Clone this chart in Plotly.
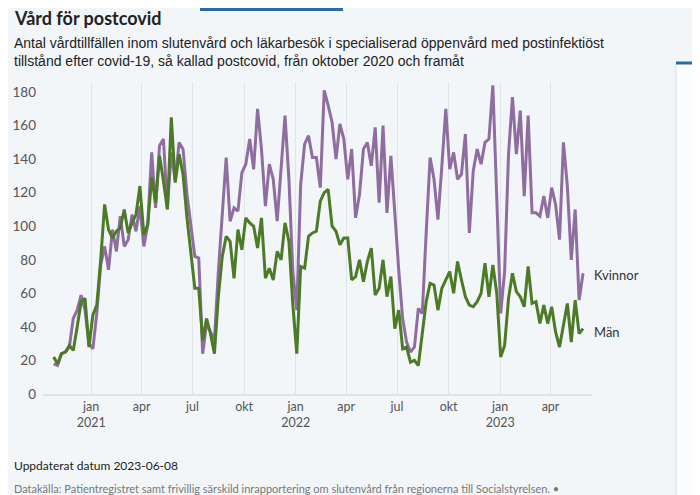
import pandas as pd
import plotly.graph_objects as go

start_date = "2020-10-26"
n_weeks = 136

kvinnor = [18, 17, 24, 25, 28, 45, 50, 59, 50, 30, 27, 48, 77, 88, 74, 98, 85, 106, 88, 92,
           107, 97, 112, 88, 101, 144, 111, 148, 152, 111, 144, 127, 150, 146, 119, 100, 82, 81, 24, 42,
           37, 32, 73, 106, 141, 103, 111, 109, 132, 137, 152, 134, 170, 146, 112, 137, 128, 103, 132, 166,
           128, 73, 50, 125, 149, 154, 141, 141, 123, 181, 172, 162, 140, 161, 152, 128, 146, 105, 119, 146,
           150, 136, 159, 114, 160, 108, 142, 106, 74, 45, 31, 25, 28, 51, 48, 96, 141, 128, 104, 136,
           170, 134, 144, 128, 131, 155, 96, 133, 146, 137, 150, 152, 184, 117, 48, 73, 143, 177, 143, 169,
           118, 166, 108, 108, 106, 118, 105, 123, 113, 92, 150, 124, 80, 110, 56, 72]

man = [22, 18, 24, 25, 29, 26, 40, 55, 57, 28, 47, 53, 80, 113, 98, 93, 97, 99, 110, 96,
       102, 107, 124, 95, 101, 129, 114, 142, 127, 110, 165, 126, 143, 131, 105, 85, 63, 63, 32, 45,
       36, 24, 58, 82, 94, 91, 69, 98, 86, 105, 102, 100, 87, 105, 69, 75, 68, 85, 80, 102,
       91, 53, 24, 76, 75, 94, 96, 97, 115, 120, 122, 100, 97, 89, 93, 93, 68, 70, 80, 67,
       79, 87, 59, 63, 80, 58, 70, 39, 50, 27, 28, 19, 20, 17, 35, 55, 66, 65, 50, 63,
       68, 73, 60, 79, 68, 58, 53, 52, 55, 60, 78, 58, 77, 60, 22, 29, 57, 72, 61, 58,
       52, 76, 54, 55, 42, 53, 42, 52, 37, 28, 41, 54, 31, 56, 36, 39]

tick_dates = ["2021-01-01", "2021-04-01", "2021-07-01", "2021-10-01",
              "2022-01-01", "2022-04-01", "2022-07-01", "2022-10-01",
              "2023-01-01", "2023-04-01"]
tick_text = ["jan<br>2021", "apr", "jul", "okt",
             "jan<br>2022", "apr", "jul", "okt",
             "jan<br>2023", "apr"]
y_ticks = [0, 20, 40, 60, 80, 100, 120, 140, 160, 180]

dates = pd.date_range(start_date, periods=n_weeks, freq="7D")

PURPLE = "#8f6da1"
GREEN = "#4c7a26"
BG = "#f3f6f9"

fig = go.Figure()
fig.add_trace(go.Scatter(x=dates, y=kvinnor, mode="lines", name="Kvinnor",
                         line=dict(color=PURPLE, width=3), hoverinfo="skip"))
fig.add_trace(go.Scatter(x=dates, y=man, mode="lines", name="Män",
                         line=dict(color=GREEN, width=3), hoverinfo="skip"))

fig.add_annotation(x=dates[-1], y=kvinnor[-1], text="Kvinnor", showarrow=False,
                   xanchor="left", xshift=9, yshift=-2,
                   font=dict(family="Lato, sans-serif", size=13, color="#333"))
fig.add_annotation(x=dates[-1], y=man[-1], text="Män", showarrow=False,
                   xanchor="left", xshift=9, yshift=-3,
                   font=dict(family="Lato, sans-serif", size=13, color="#333"))


# helpers: page pixel -> paper coords (figure is offset 8px by page margin)
def px_x(p):
    return (p - 43) / 549


def px_y(p):
    return (394 - p) / 312


# Page texts
fig.add_annotation(xref="paper", yref="paper", x=px_x(12), y=px_y(18),
                   text="<b>Vård för postcovid</b>", showarrow=False,
                   xanchor="left", yanchor="middle",
                   font=dict(family="Lato, sans-serif", size=18, color="#222"))
fig.add_annotation(xref="paper", yref="paper", x=px_x(12), y=px_y(52),
                   text="Antal vårdtillfällen inom slutenvård och läkarbesök i specialiserad öppenvård med postinfektiöst<br>"
                        "tillstånd efter covid-19, så kallad postcovid, från oktober 2020 och framåt",
                   showarrow=False, xanchor="left", yanchor="middle", align="left",
                   font=dict(family="Liberation Sans, Arial, sans-serif", size=14, color="#222"))
fig.add_annotation(xref="paper", yref="paper", x=px_x(12), y=px_y(465),
                   text="Uppdaterat datum 2023-06-08", showarrow=False,
                   xanchor="left", yanchor="middle",
                   font=dict(family="Lato, sans-serif", size=12, color="#222"))
fig.add_annotation(xref="paper", yref="paper", x=px_x(12), y=px_y(488),
                   text="Datakälla: Patientregistret samt frivillig särskild inrapportering om slutenvård från regionerna till Socialstyrelsen. •",
                   showarrow=False, xanchor="left", yanchor="middle",
                   font=dict(family="Lato, sans-serif", size=11, color="#777"))

# Decorations: top tab line and right side panel
fig.add_shape(type="rect", xref="paper", yref="paper",
              x0=px_x(200), x1=px_x(343), y0=px_y(11), y1=px_y(8),
              fillcolor="#2a6aa8", line=dict(width=0))
fig.add_shape(type="rect", xref="paper", yref="paper",
              x0=px_x(676), x1=px_x(705), y0=px_y(500), y1=px_y(63),
              fillcolor="#fbfcfd", line=dict(color="#d9dee4", width=1))
fig.add_shape(type="line", xref="paper", yref="paper",
              x0=px_x(676), x1=px_x(700), y0=px_y(63), y1=px_y(63),
              line=dict(color="#2a6aa8", width=3))

fig.update_layout(
    width=692, height=487,
    margin=dict(l=35, r=108, t=74, b=101),
    paper_bgcolor=BG, plot_bgcolor=BG,
    showlegend=False,
    xaxis=dict(
        range=["2020-10-07", "2023-06-14"],
        tickmode="array", tickvals=tick_dates, ticktext=tick_text,
        showgrid=True, gridcolor="#e1e5ea", gridwidth=1,
        showline=True, linecolor="#dde2e8", linewidth=1.5,
        ticks="", zeroline=False, automargin=False,
        tickfont=dict(family="Lato, sans-serif", size=12.5, color="#555"),
    ),
    yaxis=dict(
        range=[0, 186],
        tickmode="array", tickvals=y_ticks,
        showgrid=False, zeroline=False, showline=False, ticks="",
        ticklabelstandoff=6, automargin=False,
        tickfont=dict(family="Lato, sans-serif", size=13.5, color="#555"),
    ),
)

fig.write_html("out.html")
